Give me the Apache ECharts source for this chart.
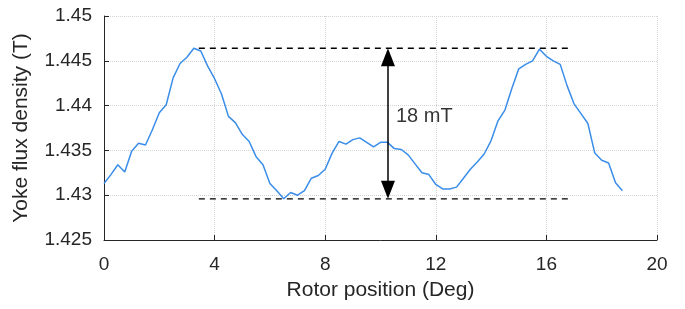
<!DOCTYPE html>
<html>
<head>
<meta charset="utf-8">
<script src="https://cdn.jsdelivr.net/npm/echarts@6/dist/echarts.min.js"></script>
<style>
  html, body { margin: 0; padding: 0; background: #fff; }
  #chart { width: 685px; height: 309px; }
</style>
</head>
<body>
<div id="chart"></div>
<script>
// rotor position (deg) and yoke flux density (T)
var positions = [
  0, 0.25, 0.5, 0.75, 1, 1.25, 1.5, 1.75, 2, 2.25, 2.5, 2.75,
  3, 3.25, 3.5, 3.75, 4, 4.25, 4.5, 4.75, 5, 5.25, 5.5, 5.75,
  6, 6.25, 6.5, 6.75, 7, 7.25, 7.5, 7.75, 8, 8.25, 8.5, 8.75,
  9, 9.25, 9.5, 9.75, 10, 10.25, 10.5, 10.75, 11, 11.25, 11.5, 11.75,
  12, 12.25, 12.5, 12.75, 13, 13.25, 13.5, 13.75, 14, 14.25, 14.5, 14.75,
  15, 15.25, 15.5, 15.75, 16, 16.25, 16.5, 16.75, 17, 17.25, 17.5, 17.75,
  18, 18.25, 18.5, 18.75
];
var fluxDensity = [
  1.4313, 1.4323, 1.4334, 1.4326, 1.4349, 1.4358, 1.4356, 1.4373, 1.4392, 1.4401, 1.4431, 1.4447,
  1.4454, 1.4464, 1.4461, 1.4444, 1.4430, 1.4413, 1.4388, 1.4381, 1.4368, 1.4360, 1.4343, 1.4334,
  1.4313, 1.4305, 1.4296, 1.4303, 1.4300, 1.4305, 1.4319, 1.4322, 1.4329, 1.4347, 1.4360, 1.4357,
  1.4362, 1.4364, 1.4359, 1.4354, 1.4359, 1.4359, 1.4352, 1.4351, 1.4345, 1.4335, 1.4325, 1.4323,
  1.4312, 1.4307, 1.4307, 1.4309, 1.4319, 1.4329, 1.4337, 1.4346, 1.4361, 1.4383, 1.4395, 1.4419,
  1.4441, 1.4446, 1.4450, 1.4463, 1.4455, 1.4450, 1.4446, 1.4422, 1.4402, 1.4391, 1.4380, 1.4347,
  1.4339, 1.4336, 1.4314, 1.4305
];
var xTicks = [0, 4, 8, 12, 16, 20];
var yTicks = ['1.425', '1.43', '1.435', '1.44', '1.445', '1.45'];

// annotation: peak-to-peak marker
var refMax = 1.4464;
var refMin = 1.4296;
var refSpan = [3.43, 16.87];
var arrowPos = 10.27;
var arrowInset = 0.001; // half an arrowhead, so the tips touch the dashed lines
var noteText = '18 mT';
var notePoint = [10.56, 1.4388];

var font = "'Liberation Sans', Arial, sans-serif";
var txt = '#262626';

var lineData = positions.map(function (p, i) { return [p, fluxDensity[i]]; });

var chart = echarts.init(document.getElementById('chart'));
var option = {
  animation: false,
  grid: { left: 104, right: 28, top: 16, bottom: 69, containLabel: false },
  xAxis: {
    type: 'value',
    min: xTicks[0],
    max: xTicks[xTicks.length - 1],
    interval: 4,
    name: 'Rotor position (Deg)',
    nameLocation: 'middle',
    nameGap: 40,
    nameTextStyle: { fontFamily: font, fontSize: 21, color: txt },
    axisLine: { lineStyle: { color: txt, width: 1 } },
    axisTick: { inside: true, length: 5, lineStyle: { color: txt } },
    axisLabel: { fontFamily: font, fontSize: 19, color: txt, margin: 15 },
    splitLine: { show: true, lineStyle: { color: '#d4d4d4', type: 'dotted', width: 1 } }
  },
  yAxis: {
    type: 'value',
    min: 1.425,
    max: 1.45,
    interval: 0.005,
    name: 'Yoke flux density (T)',
    nameLocation: 'middle',
    nameGap: 72,
    nameTextStyle: { fontFamily: font, fontSize: 21, color: txt },
    axisLine: { show: true, lineStyle: { color: txt, width: 1 } },
    axisTick: { show: true, inside: true, length: 5, lineStyle: { color: txt } },
    axisLabel: {
      fontFamily: font, fontSize: 19, color: txt, margin: 12,
      formatter: function (v) {
        var s = String(+v.toFixed(3));
        return yTicks.indexOf(s) >= 0 ? s : '';
      }
    },
    splitLine: { show: true, lineStyle: { color: '#d4d4d4', type: 'dotted', width: 1 } }
  },
  series: [
    {
      type: 'line',
      data: lineData,
      showSymbol: false,
      lineStyle: { color: '#3a8de8', width: 1.5 },
      z: 3
    },
    {
      type: 'line',
      data: [[refSpan[0], refMax], [refSpan[1], refMax]],
      showSymbol: false,
      lineStyle: { color: '#000', width: 1.3, type: [6, 5] },
      z: 2
    },
    {
      type: 'line',
      data: [[refSpan[0], refMin], [refSpan[1], refMin]],
      showSymbol: false,
      lineStyle: { color: '#000', width: 1.3, type: [6, 5] },
      z: 2,
      markLine: {
        silent: true,
        symbol: ['triangle', 'triangle'],
        symbolSize: [14, 18],
        label: { show: false },
        lineStyle: { color: '#000', width: 1.5, type: 'solid' },
        itemStyle: { color: '#000' },
        data: [[
          { coord: [arrowPos, refMax - arrowInset] },
          { coord: [arrowPos, refMin + arrowInset] }
        ]]
      }
    },
    {
      type: 'scatter',
      data: [notePoint],
      symbolSize: 0,
      label: {
        show: true,
        position: 'right',
        distance: 0,
        formatter: noteText,
        fontFamily: font,
        fontSize: 20,
        color: '#000'
      }
    }
  ]
};
chart.setOption(option);
</script>
</body>
</html>
